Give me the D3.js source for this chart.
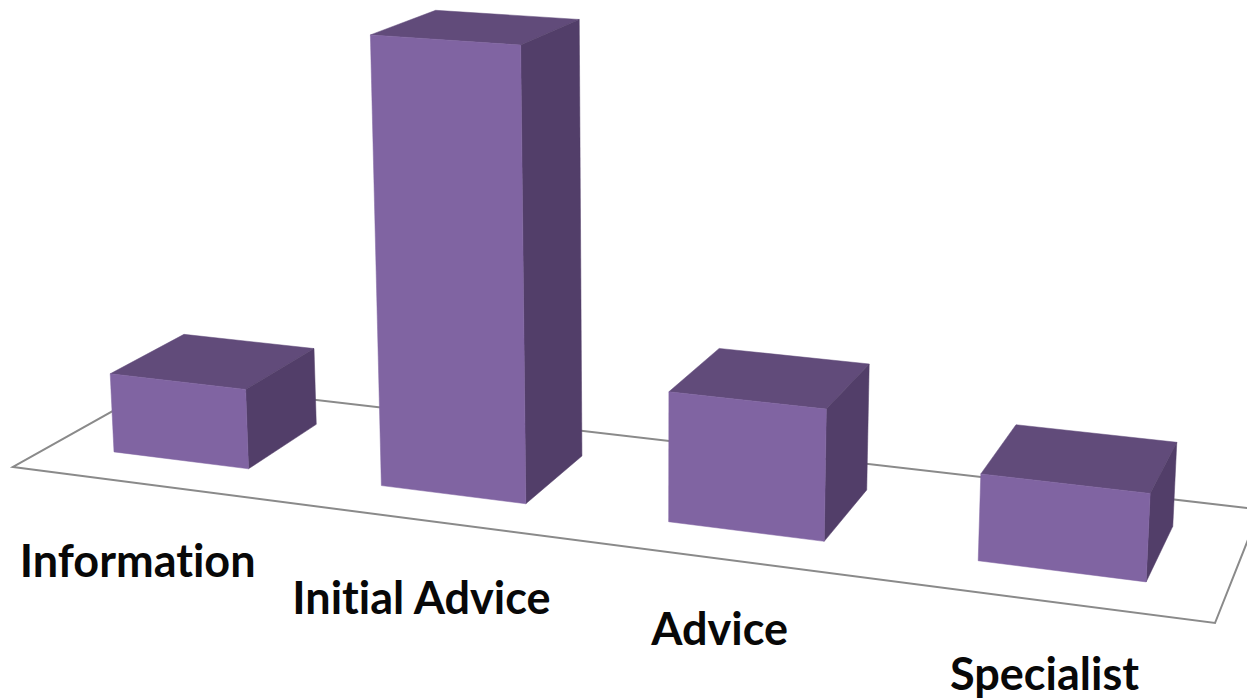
<!DOCTYPE html>
<html>
<head>
<meta charset="utf-8">
<script src="https://cdn.jsdelivr.net/npm/d3@7"></script>
<style>
html,body{margin:0;padding:0;background:#fff;overflow:hidden}
svg{display:block}
text{font-variant-ligatures:none}
</style>
</head>
<body>
<svg id="chart" width="1247" height="700"></svg>
<script>
// ---- data ----
const categories = ["Information", "Initial Advice", "Advice", "Specialist"];
const values = [18.5, 100, 28.7, 18.6];

// ---- layout ----
const W = 1247, H = 700;
// floor plane corners on screen: front-left, front-right, back-right, back-left
const floorCorners = [[13, 467], [1215, 623], [1260, 509.4], [164, 382.4]];
const verticalVanish = [650, 11500];          // vanishing point of the vertical direction
const labelOffsets = [[-5, 93], [0.5, 94], [-1, 86], [0, 89]];
const colors = {front: "#8064a2", top: "#614b7a", side: "#523e69", floor: "#8a8a8a", text: "#080808"};

// ---- scales ----
const xBand = d3.scaleBand().domain(categories).range([-0.002, 1.001]).paddingInner(0.488).paddingOuter(0.244);
const depthBand = d3.scaleBand().domain(["series"]).range([0, 1]).paddingInner(0).paddingOuter(0.5);
const heightScale = d3.scaleLinear().domain([0, 100]).range([0, 0.0386]);

// ---- perspective projection (unit square floor -> screen quad, plus a height axis) ----
const [p0, p1, p2, p3] = floorCorners;
const dx1 = p1[0] - p2[0], dx2 = p3[0] - p2[0], sx = p0[0] - p1[0] + p2[0] - p3[0];
const dy1 = p1[1] - p2[1], dy2 = p3[1] - p2[1], sy = p0[1] - p1[1] + p2[1] - p3[1];
const den = dx1 * dy2 - dx2 * dy1;
const g = (sx * dy2 - dx2 * sy) / den;
const h = (dx1 * sy - sx * dy1) / den;
const a = p1[0] - p0[0] + g * p1[0], b = p3[0] - p0[0] + h * p3[0], c = p0[0];
const d = p1[1] - p0[1] + g * p1[1], e = p3[1] - p0[1] + h * p3[1], f = p0[1];

function project(u, v, t) {
  t = t || 0;
  const w = g * u + h * v + 1 - t;
  return [
    (a * u + b * v + c - verticalVanish[0] * t) / w,
    (d * u + e * v + f - verticalVanish[1] * t) / w
  ];
}

const svg = d3.select("#chart");
const poly = d3.line().curve(d3.curveLinearClosed);

// floor
svg.append("path")
  .attr("d", poly([project(0,0), project(1,0), project(1,1), project(0,1)]))
  .attr("fill", "none")
  .attr("stroke", colors.floor)
  .attr("stroke-width", 2)
  .attr("stroke-linejoin", "miter");

// bars
const v0 = depthBand("series"), v1 = v0 + depthBand.bandwidth();
const rows = categories.map((name, i) => ({name, value: values[i], i}));

const bars = svg.selectAll("g.bar").data(rows).join("g").attr("class", "bar");

bars.each(function (r) {
  const g3 = d3.select(this);
  const u0 = xBand(r.name), u1 = u0 + xBand.bandwidth(), t = heightScale(r.value);
  g3.append("path").attr("fill", colors.top).attr("stroke", colors.top).attr("stroke-width", 0.5)
    .attr("d", poly([project(u0,v0,t), project(u1,v0,t), project(u1,v1,t), project(u0,v1,t)]));
  g3.append("path").attr("fill", colors.side).attr("stroke", colors.side).attr("stroke-width", 0.5)
    .attr("d", poly([project(u1,v0,0), project(u1,v1,0), project(u1,v1,t), project(u1,v0,t)]));
  g3.append("path").attr("fill", colors.front).attr("stroke", colors.front).attr("stroke-width", 0.5)
    .attr("d", poly([project(u0,v0,0), project(u1,v0,0), project(u1,v0,t), project(u0,v0,t)]));
});

// category labels
svg.selectAll("text.label").data(rows).join("text")
  .attr("class", "label")
  .attr("text-anchor", "middle")
  .attr("font-family", "Lato, 'Open Sans', sans-serif")
  .attr("font-weight", 700)
  .attr("font-size", 45)
  .attr("fill", colors.text)
  .attr("x", r => project(xBand(r.name) + xBand.bandwidth() / 2, 0)[0] + labelOffsets[r.i][0])
  .attr("y", r => project(xBand(r.name) + xBand.bandwidth() / 2, 0)[1] + labelOffsets[r.i][1])
  .text(r => r.name);
</script>
</body>
</html>
